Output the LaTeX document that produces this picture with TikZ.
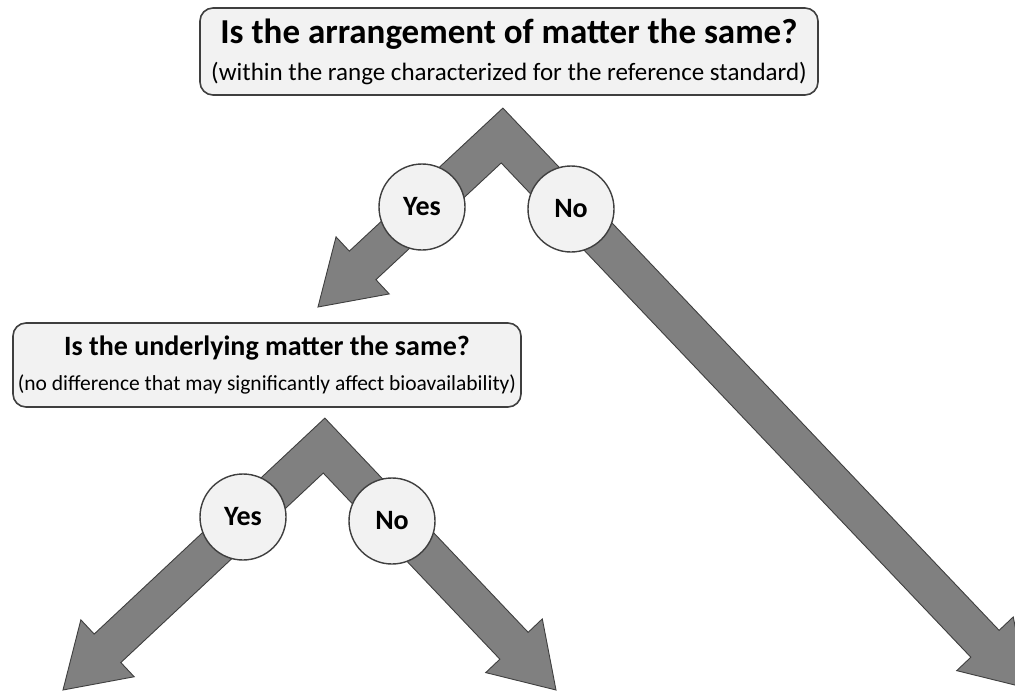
\documentclass[tikz,border=0pt]{standalone}
\usepackage{fontspec}
\setmainfont{Carlito}
\usepackage{tikz}
\usetikzlibrary{calc}
\usepackage{xcolor}

\definecolor{boxfill}{HTML}{F2F2F2}
\definecolor{edgegray}{HTML}{3F3F3F}
\definecolor{arrowgray}{HTML}{808080}

\newcommand{\chevron}[4]{%
  \coordinate (#1a) at #2;
  \coordinate (#1l) at #3;
  \coordinate (#1r) at #4;
  \coordinate (#1lb) at ($(#1l)!61pt!(#1a)$);
  \coordinate (#1rb) at ($(#1r)!61pt!(#1a)$);
  \coordinate (#1lo1) at ($(#1a)!19.5pt!-90:(#1l)$);
  \coordinate (#1lo2) at ($(#1lb)!19.5pt!-90:(#1l)$);
  \coordinate (#1li1) at ($(#1a)!19.5pt!90:(#1l)$);
  \coordinate (#1li2) at ($(#1lb)!19.5pt!90:(#1l)$);
  \coordinate (#1ro1) at ($(#1a)!19.5pt!90:(#1r)$);
  \coordinate (#1ro2) at ($(#1rb)!19.5pt!90:(#1r)$);
  \coordinate (#1ri1) at ($(#1a)!19.5pt!-90:(#1r)$);
  \coordinate (#1ri2) at ($(#1rb)!19.5pt!-90:(#1r)$);
  \draw[bigarrow]
    (intersection of #1lo1--#1lo2 and #1ro1--#1ro2)
    -- (#1lo2) -- ($(#1lb)!39pt!-90:(#1l)$) -- (#1l)
    -- ($(#1lb)!39pt!90:(#1l)$) -- (#1li2)
    -- (intersection of #1li1--#1li2 and #1ri1--#1ri2)
    -- (#1ri2) -- ($(#1rb)!39pt!-90:(#1r)$) -- (#1r)
    -- ($(#1rb)!39pt!90:(#1r)$) -- (#1ro2) -- cycle;
}

\begin{document}
\begin{tikzpicture}[
    x=1pt, y=-1pt,
    question/.style={draw=edgegray, fill=boxfill, line width=1.6pt, rounded corners=13pt, align=center, inner sep=0pt},
    answer/.style={circle, draw=edgegray, fill=boxfill, line width=1.4pt, minimum size=86pt, inner sep=0pt,
      font=\fontsize{28}{30}\selectfont\bfseries},
    bigarrow/.style={fill=arrowgray, draw=edgegray, line width=0.9pt, line join=miter},
  ]
    \useasboundingbox (0,0) rectangle (1015,691);
    \clip (0,0) rectangle (1015,691);

    \chevron{top}{(502,135.5)}{(318,307)}{(1027,688)}
    \chevron{low}{(324,445.5)}{(63,690)}{(556,690)}

    \node[question, minimum width=618pt, minimum height=87pt] (arrangement) at (509,51.5)
      {{\fontsize{35}{36}\selectfont\bfseries Is the arrangement of matter the same?}\\[12pt]
       {\fontsize{25}{26}\selectfont (within the range characterized for the reference standard)}};
    \node[question, minimum width=508pt, minimum height=84pt] (underlying) at (267,365)
      {{\fontsize{28}{29}\selectfont\bfseries Is the underlying matter the same?}\\[13pt]
       {\fontsize{21.5}{22}\selectfont (no difference that may significantly affect bioavailability)}};

    \node[answer] (yes1) at (422,207) {Yes};
    \node[answer] (no1) at (571,209) {No};
    \node[answer] (yes2) at (243,517) {Yes};
    \node[answer] (no2) at (392,521) {No};
\end{tikzpicture}
\end{document}
